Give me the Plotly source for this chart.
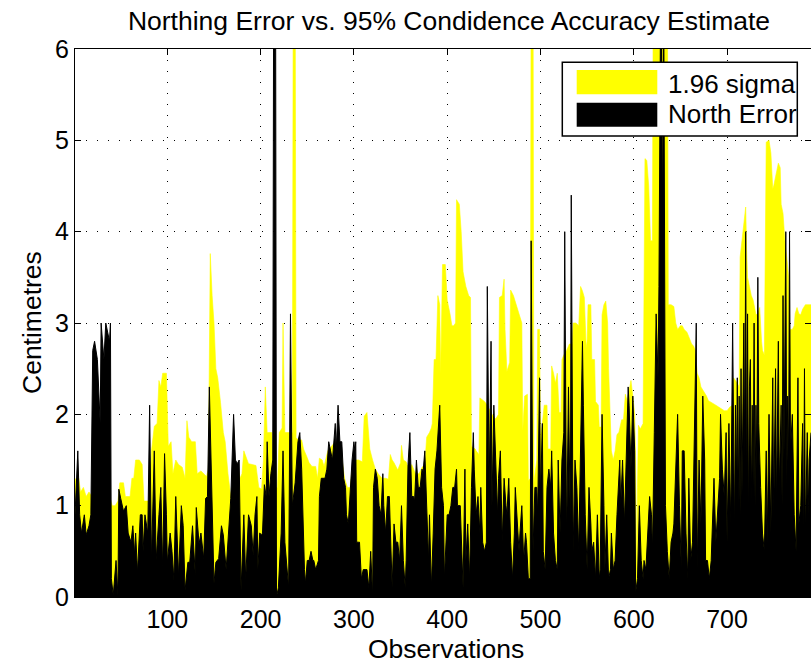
import plotly.graph_objects as go

# 1.96-sigma accuracy estimate (cm) at selected observation indices
sigma_obs = [1, 3, 5, 7, 10, 13, 16, 19, 25, 32, 38, 41, 44, 47, 49, 53, 55, 60, 62, 64, 66, 70, 73, 75, 81, 83, 86, 89, 91, 93, 95, 99,
             101, 104, 106, 109, 112, 116, 119, 121, 123, 126, 130, 132, 136, 139, 142, 144, 146, 148, 150, 152, 154, 157, 160, 162, 165, 168, 170, 172, 175, 178, 180, 182, 184, 187, 191, 195, 198,
             201, 203, 205, 207, 212, 214, 218, 220, 223, 224, 226, 230, 234, 235, 237, 238, 241, 244, 246, 249, 252, 255, 259, 261, 263, 266, 268, 272, 280, 286, 290, 293, 296, 299,
             305, 309, 311, 314, 317, 320, 323, 326, 330, 334, 337, 339, 341, 343, 347, 350, 351, 353, 356, 359, 362, 366, 370, 373, 376, 378, 381, 383, 384, 386, 388, 390, 392, 393, 395, 398,
             400, 403, 405, 407, 409, 410, 413, 415, 417, 420, 423, 425, 426, 430, 431, 434, 435, 440, 443, 448, 452, 455, 456, 459, 461, 462, 464, 467, 468, 471, 474, 477, 480, 481, 483, 486, 487, 489, 490, 492, 493, 496, 497, 499,
             500, 502, 504, 507, 508, 511, 512, 514, 516, 518, 520, 522, 523, 525, 528, 531, 534, 535, 538, 541, 543, 545, 547, 549, 550, 551, 554, 555, 558, 559, 562, 563, 565, 566, 568, 570, 572, 573, 574, 576, 578, 580, 582, 584, 587, 589, 591, 593, 594, 597, 599,
             601, 602, 603, 604, 605, 607, 610, 612, 614, 616, 618, 620, 621, 636, 637, 640, 643, 645, 647, 650, 652, 654, 657, 659, 662, 664, 666, 668, 670, 672, 675, 678, 680, 684, 688, 691, 694, 697,
             700, 703, 706, 707, 711, 713, 714, 716, 718, 720, 721, 722, 724, 726, 728, 731, 733, 735, 737, 738, 740, 742, 745, 747, 749, 750, 752, 754, 755, 757, 758, 760, 762, 764, 766, 767, 770, 772, 773, 775, 777, 779, 781, 784, 790]
sigma_cm = [1.3, 1.25, 1.3, 1.15, 1.2, 1.1, 1.15, 1.1, 1.2, 1.2, 1.1, 1.0, 1.0, 1.05, 1.25, 1.25, 1.1, 1.1, 1.3, 1.3, 1.5, 1.5, 1.45, 1.05, 1.05, 1.6, 1.87, 1.9, 2.37, 2.3, 2.45, 2.45,
            1.65, 1.7, 1.35, 1.5, 1.45, 1.42, 1.3, 1.93, 1.75, 1.7, 1.7, 1.35, 1.38, 1.35, 1.32, 1.4, 3.76, 3.3, 3.0, 2.5, 2.4, 2.13, 1.8, 1.7, 1.35, 1.1, 1.15, 1.42, 1.46, 1.3, 1.35, 1.6, 1.55, 1.46, 1.45, 1.44, 1.2,
            1.18, 1.5, 2.3, 1.8, 1.8, 1.2, 1.2, 1.8, 1.85, 3.0, 1.8, 1.8, 1.8, 7.0, 7.0, 1.74, 1.72, 1.72, 1.62, 1.55, 1.47, 1.43, 1.43, 1.3, 1.52, 1.5, 1.43, 1.6, 1.7, 1.6, 1.3, 1.2, 1.2, 1.5,
            1.5, 1.48, 1.98, 2.02, 1.62, 1.5, 1.4, 1.35, 1.3, 1.3, 1.29, 1.56, 1.5, 1.47, 1.39, 1.47, 1.66, 1.5, 1.48, 1.4, 1.45, 1.35, 1.35, 1.42, 1.45, 1.75, 1.8, 1.85, 1.9, 2.6, 2.6, 3.3, 3.2, 2.45, 3.64, 3.64,
            3.25, 3.1, 2.97, 2.97, 3.0, 4.35, 4.3, 4.0, 3.56, 3.4, 3.3, 3.28, 1.65, 1.62, 1.6, 1.56, 2.18, 2.14, 2.1, 2.0, 1.95, 2.0, 3.28, 3.3, 3.48, 2.93, 2.47, 2.57, 3.36, 3.3, 3.2, 3.1, 3.0, 1.82, 2.2, 2.22, 1.27, 1.3, 7.0, 7.0, 1.25, 1.5, 2.93, 2.93,
            1.75, 1.9, 2.1, 2.1, 1.62, 1.62, 2.53, 2.45, 2.34, 2.45, 2.02, 2.02, 2.6, 2.65, 2.7, 2.77, 2.77, 3.0, 3.0, 2.97, 3.4, 3.35, 3.28, 2.73, 2.8, 3.2, 3.2, 2.6, 2.6, 2.14, 2.1, 1.86, 1.86, 3.09, 3.2, 3.24, 3.0, 2.5, 2.14, 1.6, 1.5, 1.6, 1.78, 1.8, 1.94, 1.94, 2.22, 2.14, 2.2, 2.37, 2.2,
            2.0, 1.5, 0.3, 1.2, 1.88, 1.84, 1.9, 4.8, 4.78, 4.5, 3.9, 3.9, 7.0, 7.0, 3.2, 3.2, 3.18, 3.0, 2.93, 2.97, 2.97, 2.93, 2.9, 2.85, 2.77, 2.75, 2.7, 2.45, 2.4, 2.3, 2.25, 2.2, 2.15, 2.12, 2.1, 2.08, 2.06, 2.04,
            2.04, 2.08, 2.1, 2.4, 2.34, 2.3, 3.72, 3.9, 4.03, 4.27, 3.8, 3.5, 3.4, 3.3, 3.25, 3.09, 3.1, 3.17, 2.8, 2.7, 2.65, 4.98, 5.0, 4.86, 4.47, 4.5, 4.6, 4.7, 4.75, 4.7, 4.3, 4.2, 3.9, 3.72, 3.5, 2.93, 2.93, 2.97, 3.1, 3.17, 3.1, 3.09, 3.15, 3.2, 3.2]

# Northing error (cm) at selected observation indices
error_obs = [1, 2, 4, 6, 8, 11, 13, 16, 18, 20, 22, 25, 28, 29, 32, 34, 36, 38, 39, 40, 42, 45, 47, 48, 50, 53, 56, 58, 61, 63, 65, 66, 68, 71, 73, 74, 76, 79, 81, 83, 86, 88, 91, 93, 95, 97, 99,
             100, 103, 105, 107, 109, 112, 115, 117, 119, 122, 124, 127, 130, 131, 134, 136, 139, 141, 143, 145, 147, 150, 152, 155, 158, 160, 163, 165, 168, 171, 173, 175, 177, 179, 182, 184, 187, 190, 192, 194, 196, 197, 199,
             201, 202, 204, 206, 207, 209, 211, 213, 214, 216, 217, 219, 222, 224, 226, 228, 230, 232, 234, 237, 239, 240, 242, 244, 247, 248, 250, 252, 254, 256, 257, 259, 262, 263, 265, 267, 269, 271, 273, 275, 277, 280, 281, 283, 285, 287, 289, 291, 292, 294, 296, 298,
             300, 301, 302, 303, 305, 306, 308, 310, 312, 314, 316, 318, 320, 321, 323, 325, 327, 329, 331, 332, 334, 336, 338, 340, 341, 343, 345, 347, 349, 351, 353, 355, 356, 358, 360, 362, 364, 365, 367, 369, 371, 373, 374, 376, 378, 380, 381, 383, 385, 387, 389, 390, 392, 394, 396, 397, 398,
             400, 402, 404, 406, 408, 410, 411, 414, 415, 417, 419, 420, 422, 424, 426, 428, 429, 431, 433, 435, 436, 438, 440, 442, 443, 445, 447, 448, 450, 452, 454, 455, 457, 459, 461, 463, 464, 466, 468, 470, 472, 473, 475, 477, 478, 480, 482, 484, 485, 487, 489, 490, 492, 494, 496, 497, 499,
             500, 502, 503, 505, 507, 509, 511, 512, 514, 516, 518, 519, 521, 523, 525, 526, 528, 530, 532, 533, 535, 537, 539, 541, 543, 545, 546, 548, 550, 552, 554, 555, 557, 559, 561, 563, 564, 566, 568, 569, 571, 573, 575, 576, 578, 580, 582, 585, 586, 588, 590, 592, 594, 595, 597, 599,
             601, 602, 604, 606, 608, 610, 611, 613, 615, 617, 619, 620, 622, 624, 626, 627, 629, 631, 632, 634, 636, 638, 640, 642, 643, 645, 647, 649, 651, 652, 654, 656, 658, 659, 661, 663, 665, 667, 668, 670, 672, 674, 676, 677, 679, 681, 683, 685, 686, 688, 690, 692, 693, 695, 697, 699,
             700, 702, 704, 706, 708, 709, 710, 711, 712, 713, 714, 715, 716, 718, 719, 720, 721, 722, 723, 724, 725, 726, 727, 728, 729, 730, 731, 732, 733, 734, 736, 738, 740, 742, 743, 745, 747, 749, 750, 752, 753, 755, 756, 758, 759, 760, 761, 763, 764, 765, 766, 767, 768, 770, 772, 774, 776, 777, 779, 781, 782, 783, 784, 786, 787, 788, 790]
error_cm = [0.9, 1.2, 1.6, 0.9, 0.7, 0.9, 0.68, 0.78, 0.9, 2.7, 2.8, 2.6, 1.9, 3.0, 2.6, 3.0, 2.9, 2.8, 3.0, 0.2, 0.02, 0.4, 0.02, 1.18, 1.08, 0.94, 1.0, 0.7, 0.6, 0.78, 0.46, 0.7, 0.27, 0.9, 0.9, 0.5, 0.9, 0.7, 2.1, 0.4, 1.6, 0.4, 0.9, 1.2, 0.3, 1.57, 0.9,
            0.38, 0.7, 0.5, 0.19, 1.1, 0.23, 1.0, 0.78, 0.07, 0.38, 0.38, 0.78, 0.23, 0.98, 0.58, 0.7, 0.42, 1.08, 1.1, 2.3, 1.5, 0.15, 0.38, 0.42, 0.78, 0.68, 0.3, 0.58, 1.08, 2.0, 1.5, 1.46, 1.5, 0.07, 0.9, 0.19, 0.9, 0.78, 0.46, 0.9, 1.1, 0.3, 0.7,
            0.68, 0.7, 1.23, 1.1, 1.7, 1.1, 1.35, 1.5, 7.0, 7.0, 0.0, 0.1, 0.7, 1.6, 0.6, 0.3, 0.1, 3.1, 1.0, 1.25, 1.5, 1.7, 1.8, 1.4, 0.3, 0.15, 0.4, 0.4, 0.5, 0.4, 0.4, 0.3, 0.4, 1.1, 1.3, 1.3, 1.3, 1.4, 1.7, 1.6, 1.5, 1.9, 1.6, 2.1, 1.7, 1.7, 1.3, 1.2, 0.9, 0.8, 1.2, 1.5,
            1.7, 1.6, 1.7, 0.6, 0.6, 0.6, 0.2, 0.3, 0.3, 0.3, 0.1, 0.5, 0.0, 1.2, 1.4, 1.3, 1.0, 0.9, 1.35, 1.0, 0.7, 1.1, 1.1, 0.4, 0.1, 0.8, 0.6, 0.6, 0.4, 1.0, 0.4, 0.1, 0.4, 1.45, 1.8, 1.1, 1.1, 1.05, 1.5, 1.2, 1.2, 1.4, 1.35, 1.6, 1.0, 0.4, 0.9, 0.1, 0.7, 1.4, 1.6, 1.8, 2.1, 1.2, 1.0, 0.2, 0.4,
            0.9, 0.9, 1.0, 1.2, 1.2, 1.4, 1.0, 1.0, 0.7, 0.1, 1.4, 0.4, 0.8, 0.2, 1.2, 1.8, 1.4, 0.9, 1.1, 0.7, 1.2, 0.6, 0.5, 0.6, 3.4, 1.2, 2.8, 1.0, 2.1, 1.4, 0.9, 1.3, 1.6, 0.6, 1.3, 1.0, 0.9, 1.3, 0.6, 0.2, 0.7, 1.2, 0.9, 0.5, 0.7, 1.0, 0.4, 0.7, 0.6, 0.2, 0.2, 3.9, 0.5, 1.2, 1.2, 0.9, 2.4,
            1.1, 1.9, 0.5, 0.3, 1.2, 1.4, 1.2, 1.6, 0.7, 0.4, 0.3, 1.5, 0.7, 1.5, 1.8, 4.0, 0.6, 2.3, 0.8, 4.4, 0.5, 1.5, 1.2, 0.5, 1.9, 2.8, 2.1, 0.9, 0.3, 1.2, 0.8, 0.5, 0.6, 0.2, 0.9, 0.2, 0.3, 2.0, 1.0, 0.3, 0.9, 0.2, 0.3, 0.7, 0.3, 0.4, 0.9, 1.5, 1.0, 1.5, 0.8, 1.6, 2.3, 2.1, 1.4, 2.2,
            1.6, 0.05, 0.2, 1.0, 0.4, 0.2, 0.4, 0.3, 0.8, 1.1, 0.9, 0.5, 1.8, 3.1, 2.4, 3.4, 7.0, 4.2, 7.0, 1.0, 0.5, 0.2, 0.6, 0.7, 0.8, 1.3, 2.0, 1.0, 0.3, 1.6, 1.6, 0.7, 0.2, 1.3, 0.4, 0.6, 1.7, 3.0, 0.3, 1.5, 0.8, 2.2, 1.5, 0.4, 0.4, 0.2, 0.4, 0.9, 1.3, 0.6, 1.0, 1.3, 2.0, 1.4, 1.1, 1.8,
            0.6, 1.9, 0.8, 3.0, 0.7, 2.1, 1.2, 2.4, 1.0, 2.2, 0.9, 2.5, 1.1, 3.0, 1.5, 4.0, 1.0, 3.1, 0.8, 2.3, 2.6, 1.0, 2.1, 1.2, 3.0, 1.0, 2.1, 1.4, 3.5, 1.9, 1.2, 0.7, 0.5, 1.6, 0.6, 2.0, 0.7, 2.4, 0.9, 2.5, 1.0, 2.8, 1.2, 2.1, 1.0, 3.3, 1.5, 4.0, 1.2, 2.2, 1.5, 4.0, 1.6, 2.0, 0.9, 0.5, 2.4, 0.8, 1.0, 1.9, 0.6, 2.5, 0.7, 1.8, 0.9, 1.5, 1.8]

x_ticks = [100, 200, 300, 400, 500, 600, 700]
y_ticks = [0, 1, 2, 3, 4, 5, 6]
series_names = ["1.96 sigma", "North Error"]
series_colors = ["#ffff00", "#000000"]

W, H = 811, 667
ML, MR, MT, MB = 75, 0, 49, 70
PW, PH = W - ML - MR, H - MT - MB
FONT = "Liberation Sans, Arial, Helvetica, sans-serif"


def px(x):
    return (x - ML) / PW


def py(y):
    return (H - MB - y) / PH


fig = go.Figure()
fig.add_trace(go.Scatter(x=sigma_obs, y=sigma_cm, mode="lines", fill="tozeroy",
                         line=dict(color=series_colors[0], width=0.6),
                         fillcolor=series_colors[0], name=series_names[0], showlegend=False))
fig.add_trace(go.Scatter(x=error_obs, y=error_cm, mode="lines", fill="tozeroy",
                         line=dict(color=series_colors[1], width=1),
                         fillcolor=series_colors[1], name=series_names[1], showlegend=False))

axis_common = dict(
    showline=True, linecolor="black", linewidth=1, mirror="ticks",
    ticks="inside", ticklen=6, tickcolor="black", tickwidth=1,
    showgrid=True, gridcolor="black", gridwidth=1, griddash="1px,10px",
    zeroline=False, tickfont=dict(family=FONT, size=25, color="black"),
)
fig.update_xaxes(range=[1, 790], tickvals=x_ticks, **axis_common)
fig.update_yaxes(range=[0, 6], tickvals=y_ticks, **axis_common)

# legend box drawn in paper coordinates
shapes = [
    dict(type="rect", xref="paper", yref="paper", x0=px(562.3), x1=px(797.3), y0=py(136), y1=py(62.3),
         fillcolor="white", line=dict(color="black", width=1.5), layer="above"),
    dict(type="rect", xref="paper", yref="paper", x0=px(576.7), x1=px(657.3), y0=py(94.3), y1=py(70),
         fillcolor=series_colors[0], line=dict(width=0), layer="above"),
    dict(type="rect", xref="paper", yref="paper", x0=px(576.7), x1=px(657.3), y0=py(126.7), y1=py(102.7),
         fillcolor=series_colors[1], line=dict(width=0), layer="above"),
]
annotations = [
    dict(text=series_names[0], xref="paper", yref="paper", x=px(666), y=py(84), xanchor="left", yanchor="middle",
         showarrow=False, font=dict(family=FONT, size=26, color="black")),
    dict(text=series_names[1], xref="paper", yref="paper", x=px(666), y=py(114), xanchor="left", yanchor="middle",
         showarrow=False, font=dict(family=FONT, size=26, color="black")),
    dict(text="Observations", xref="paper", yref="paper", x=px(446), y=py(649), xanchor="center", yanchor="middle",
         showarrow=False, font=dict(family=FONT, size=26.5, color="black")),
    dict(text="Centimetres", xref="paper", yref="paper", x=px(32), y=0.5, xanchor="center", yanchor="middle",
         textangle=-90, showarrow=False, font=dict(family=FONT, size=26.5, color="black")),
]

fig.update_layout(
    width=W, height=H,
    margin=dict(l=ML, r=MR, t=MT, b=MB, pad=0),
    paper_bgcolor="white", plot_bgcolor="white",
    title=dict(text="Northing Error vs. 95% Condidence Accuracy Estimate",
               x=449 / W, xanchor="center", y=1 - 21 / H, yanchor="middle", yref="container",
               font=dict(family=FONT, size=26.5, color="black")),
    shapes=shapes, annotations=annotations, showlegend=False,
)

fig.write_html("out.html")
